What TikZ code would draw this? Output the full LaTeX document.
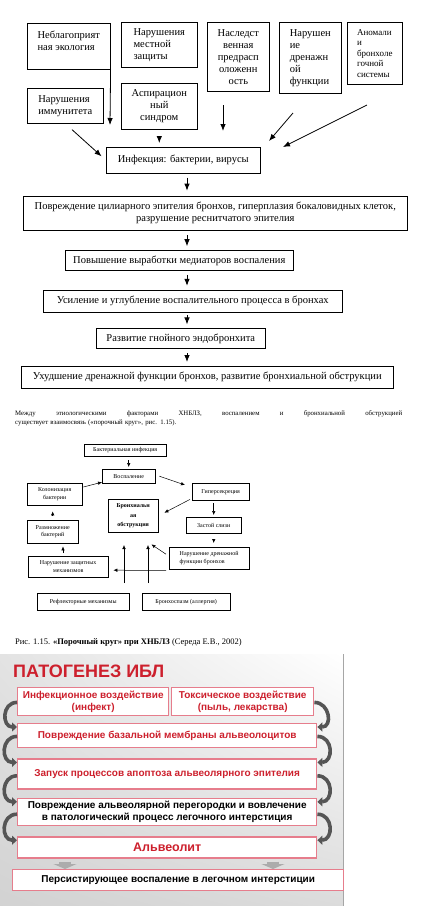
\documentclass[tikz,border=0pt]{standalone}
\usepackage{fontspec}
\setmainfont{Liberation Serif}
\setsansfont{Liberation Sans}
\usetikzlibrary{shapes,arrows,arrows.meta,positioning,calc,shadings}

\definecolor{iblred}{RGB}{205,32,45}
\definecolor{iblpink}{RGB}{230,125,140}
\definecolor{iblgray}{RGB}{85,85,85}

\tikzstyle{block} = [draw, rectangle, line width=0.6pt, inner sep=0pt, anchor=north west, font=\fontsize{10.5}{12}\selectfont]
\tikzstyle{line} = [draw, line width=0.8pt, -{Latex[length=7pt,width=5.5pt]}]
\tikzstyle{minibox} = [draw, rectangle, line width=0.4pt, inner sep=0pt, anchor=north west, align=center, font=\fontsize{6}{7.5}\selectfont]
\tikzstyle{miniline} = [draw, line width=0.5pt, -{Latex[length=4pt,width=3.5pt]}]
\tikzstyle{iblbox} = [draw=iblpink, fill=white, line width=1.4pt, inner sep=0pt, align=center, text=iblred, font=\sffamily\bfseries\fontsize{10}{12}\selectfont]
\tikzstyle{curvearrow} = [draw=iblgray, line width=3.6pt, -{Triangle[length=5pt,width=9pt]}, looseness=1.6]
\tikzstyle{blockarrow} = [draw=gray!65, line width=12pt, -{Triangle[length=5pt,width=23pt]}]

\begin{document}
\begin{tikzpicture}[x=1pt, y=-1pt]
    \useasboundingbox (0,0) rectangle (447,906);

    % Etiology factors
    \node [block, align=left, minimum width=83pt, minimum height=46pt] (ecol) at (27,23) {Неблагоприят\\ная экология\\ \mbox{}};
    \node [block, align=left, minimum width=76pt, minimum height=45pt] (local) at (121,22) {Нарушения\\местной\\защиты};
    \node [block, align=center, minimum width=62pt, minimum height=69pt] (hered) at (207,22) {Наследст\\венная\\предрасп\\оложенн\\ость};
    \node [block, align=left, minimum width=62pt, minimum height=71pt] (drain) at (279,22) {Нарушен\\ие\\дренажн\\ой\\функции};
    \node [block, align=left, minimum width=55pt, minimum height=62pt, font=\fontsize{9}{10.5}\selectfont] (anom) at (347,22) {Аномали\\и\\бронхоле\\гочной\\системы};
    \node [block, align=left, minimum width=76pt, minimum height=35pt] (immun) at (27,88) {Нарушения\\иммунитета};
    \node [block, align=center, minimum width=76pt, minimum height=46pt] (aspir) at (121,83) {Аспирацион\\ный\\синдром};
    \node [block, minimum width=154pt, minimum height=26pt] (infect) at (106,147) {Инфекция: бактерии, вирусы};

    % Pathogenesis chain
    \node [block, align=center, minimum width=384pt, minimum height=34pt, below=22pt of infect, anchor=north, xshift=32pt] (cilia) {Повреждение цилиарного эпителия бронхов, гиперплазия бокаловидных клеток,\\разрушение реснитчатого эпителия};
    \node [block, minimum width=228pt, minimum height=20pt, below=20pt of cilia, anchor=north, xshift=-36pt] (mediat) {Повышение выработки медиаторов воспаления};
    \node [block, minimum width=299pt, minimum height=22pt, below=19pt of mediat, anchor=north, xshift=13.5pt] (deepen) {Усиление и углубление воспалительного процесса в бронхах};
    \node [block, minimum width=169pt, minimum height=20pt, below=16pt of deepen, anchor=north, xshift=-12pt] (endob) {Развитие гнойного эндобронхита};
    \node [block, minimum width=372pt, minimum height=22pt, below=17pt of endob, anchor=north, xshift=26.5pt] (obstr) {Ухудшение дренажной функции бронхов, развитие бронхиальной обструкции};

    % Free ends
    \coordinate (axis) at (187,0);
    \coordinate (ecolend) at (110,125);
    \coordinate (heredtop) at (223,105);
    \coordinate (heredend) at (223,131);
    \coordinate (draintop) at (293,113);
    \coordinate (drainend) at (269,141);
    \coordinate (anomtop) at (367,105);
    \coordinate (anomend) at (283,147);

    % Paths
    \path [line] (ecol.south east) -- (ecolend);
    \path [line, shorten <=9pt, shorten >=6pt] (immun.south) -- (infect.west);
    \path [line, shorten <=8pt, shorten >=4pt] (aspir.south) -- (aspir.south |- infect.north);
    \path [line] (heredtop) -- (heredend);
    \path [line] (draintop) -- (drainend);
    \path [line] (anomtop) -- (anomend);
    \path [line, shorten <=4pt, shorten >=5pt] (infect.south -| axis) -- (cilia.north -| axis);
    \path [line, shorten <=5pt, shorten >=4pt] (cilia.south -| axis) -- (mediat.north -| axis);
    \path [line, shorten <=4pt, shorten >=4pt] (mediat.south -| axis) -- (deepen.north -| axis);
    \path [line, shorten <=3pt, shorten >=4pt] (deepen.south -| axis) -- (endob.north -| axis);
    \path [line, shorten <=4pt, shorten >=4pt] (endob.south -| axis) -- (obstr.north -| axis);

    % Text between the figures
    \node [anchor=north west, inner sep=0pt, align=left, text width=387pt, font=\fontsize{6.8}{9}\selectfont] (para) at (15,410) {\hbox to 387pt{Между\hfill этиологическими\hfill факторами\hfill ХНБЛЗ,\hfill воспалением\hfill и\hfill бронхиальной\hfill обструкцией}\\существует взаимосвязь («порочный круг», рис. 1.15).};

    % Vicious circle
    \node [minibox, minimum width=82pt, minimum height=12pt] (bact) at (84,444) {Бактериальная инфекция};
    \node [minibox, minimum width=53pt, minimum height=14pt] (inflam) at (102,469) {Воспаление};
    \node [minibox, minimum width=55pt, minimum height=22pt] (colon) at (27,483) {Колонизация\\бактерии};
    \node [minibox, minimum width=57pt, minimum height=17pt] (hyper) at (192,483) {Гиперсекреция};
    \node [minibox, minimum width=50pt, minimum height=33pt, font=\bfseries\fontsize{6}{9.5}\selectfont] (bronch) at (108,499) {Бронхиальн\\ая\\обструкция};
    \node [minibox, minimum width=55pt, minimum height=16pt] (mucus) at (186,517) {Застой слизи};
    \node [minibox, minimum width=80pt, minimum height=22pt, align=left] (drainage) at (169,547) {Нарушение дренажной\\функции бронхов};
    \node [minibox, minimum width=51pt, minimum height=23pt] (multip) at (27,520) {Размножение\\бактерий};
    \node [minibox, minimum width=80pt, minimum height=21pt] (defense) at (28,556) {Нарушение защитных\\механизмов};
    \node [minibox, minimum width=92pt, minimum height=17pt] (reflex) at (37,593) {Рефлекторные механизмы};
    \node [minibox, minimum width=88pt, minimum height=17pt] (spasm) at (142,593) {Бронхоспазм (аллергия)};

    \coordinate (reflexup) at (124,583);
    \coordinate (reflexend) at (124,545);
    \coordinate (spasmup) at (148,583);
    \coordinate (spasmend) at (148,545);
    \coordinate (upaxis) at (63,0);

    \path [miniline, shorten <=4pt, shorten >=2pt] (bact.south -| inflam.north) -- (inflam.north);
    \path [miniline] ($(colon.north east)+(1,4)$) -- ($(inflam.west)+(0,6)$);
    \path [miniline] ($(inflam.east)+(4,0)$) -- ($(hyper.north west)+(-7,2)$);
    \path [miniline] ($(hyper.south west)+(-2,-1)$) -- ($(bronch.east)+(6,-3)$);
    \path [miniline, shorten <=3pt, shorten >=2pt] (hyper.south -| mucus.north) -- (mucus.north);
    \path [miniline, shorten <=6pt, shorten >=4pt] (mucus.south) -- (mucus.south |- drainage.north);
    \path [miniline] ($(drainage.west)+(-3,-4)$) -- ($(bronch.south east)+(-7,12)$);
    \path [miniline] ($(drainage.south west)+(-3,1)$) -- ($(defense.east)+(5,3.5)$);
    \path [miniline] (reflexup) -- (reflexend);
    \path [miniline] (spasmup) -- (spasmend);
    \path [miniline, shorten <=3pt, shorten >=3pt] (defense.north -| upaxis) -- (multip.south -| upaxis);
    \path [miniline, shorten <=4pt, shorten >=6pt] (multip.north) -- (multip.north |- colon.south);

    \node [anchor=west, inner sep=0pt, font=\fontsize{8.5}{10}\selectfont] (caption) at (15,642) {Рис. 1.15. \textbf{«Порочный круг» при ХНБЛЗ} (Середа Е.В., 2002)};

    % IBL panel
    \shade [upper left=gray!22, upper right=white, lower left=gray!35, lower right=gray!28] (0,654) rectangle (343,906);
    \draw [gray!70, line width=1pt] (343,654) -- (343,906);
    \node [anchor=west, inner sep=0pt, text=iblred, font=\sffamily\bfseries\fontsize{18}{20}\selectfont] (title) at (13,671) {ПАТОГЕНЕЗ ИБЛ};

    \node [iblbox, anchor=north west, minimum width=151pt, minimum height=28pt] (infex) at (17,687) {Инфекционное воздействие\\(инфект)};
    \node [iblbox, anchor=north west, minimum width=142pt, minimum height=28pt] (toxic) at (171,687) {Токсическое воздействие\\(пыль, лекарства)};
    \node [iblbox, anchor=north west, minimum width=299pt, minimum height=24pt] (basal) at (17,723) {Повреждение базальной мембраны альвеолоцитов};
    \node [iblbox, minimum width=299pt, minimum height=30pt, below=10pt of basal] (apopt) {Запуск процессов апоптоза альвеолярного эпителия};
    \node [iblbox, minimum width=299pt, minimum height=27pt, below=8pt of apopt, text=black] (septum) {Повреждение альвеолярной перегородки и вовлечение\\в патологический процесс легочного интерстиция};
    \node [iblbox, minimum width=299pt, minimum height=21pt, below=10pt of septum, font=\sffamily\bfseries\fontsize{12.5}{14}\selectfont] (alveol) {Альвеолит};
    \node [iblbox, anchor=north west, minimum width=331pt, minimum height=21pt, text=black] (persist) at (12,869) {Персистирующее воспаление в легочном интерстиции};

    \path [curvearrow] ($(infex.south west)+(0,-14)$) to[out=180, in=180] ($(basal.north west)+(0,4)$);
    \path [curvearrow] ($(basal.south west)+(0,-12)$) to[out=180, in=180] ($(apopt.north west)+(0,4)$);
    \path [curvearrow] ($(apopt.south west)+(0,-14)$) to[out=180, in=180] ($(septum.north west)+(0,4)$);
    \path [curvearrow] ($(septum.south west)+(0,-12)$) to[out=180, in=180] ($(alveol.north west)+(0,4)$);
    \path [curvearrow] ($(toxic.south east)+(0,-14)$) to[out=0, in=0] ($(basal.north east)+(0,4)$);
    \path [curvearrow] ($(basal.south east)+(0,-12)$) to[out=0, in=0] ($(apopt.north east)+(0,4)$);
    \path [curvearrow] ($(apopt.south east)+(0,-14)$) to[out=0, in=0] ($(septum.north east)+(0,4)$);
    \path [curvearrow] ($(septum.south east)+(0,-12)$) to[out=0, in=0] ($(alveol.north east)+(0,4)$);

    \coordinate (leftdown) at (65,860);
    \coordinate (rightdown) at (273,860);
    \path [blockarrow, shorten <=3pt] (alveol.south -| leftdown) -- (persist.north -| leftdown);
    \path [blockarrow, shorten <=3pt] (alveol.south -| rightdown) -- (persist.north -| rightdown);
\end{tikzpicture}
\end{document}
